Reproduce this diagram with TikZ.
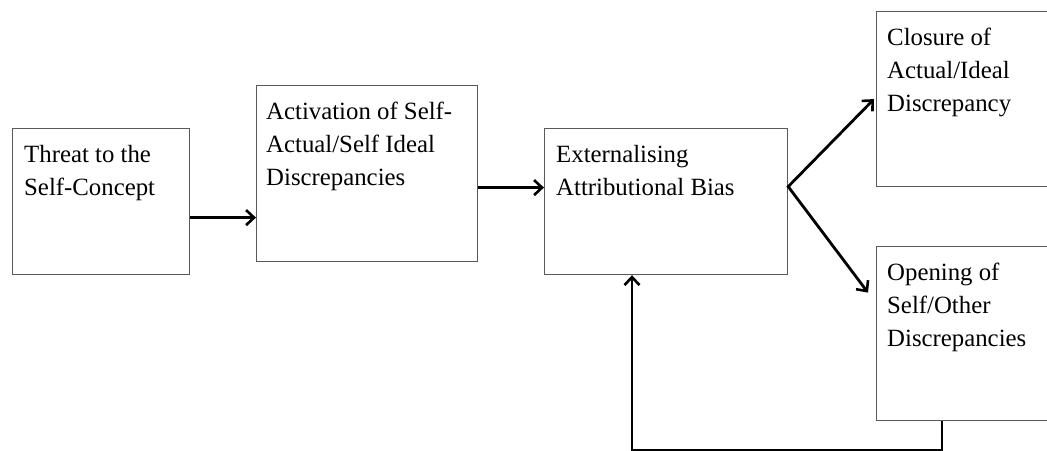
\documentclass[tikz,border=0pt]{standalone}
\usepackage{fontspec}
\setmainfont{Liberation Serif}
\usetikzlibrary{arrows.meta}
\begin{document}
\begin{tikzpicture}[x=1pt,y=-1pt,
  box/.style={draw=black!65,line width=1.2pt,rectangle,inner sep=0pt,anchor=north west},
  txt/.style={anchor=north west,inner sep=0pt,align=left,font=\fontsize{24.8}{33}\selectfont,text=black},
  tip/.tip={Straight Barb[length=8pt,width=15pt,line width=2.6pt]},
  arr/.style={line width=2.8pt,-tip},
  darr/.style={line width=2.8pt,tip-tip,line join=miter}]
\useasboundingbox (0,0) rectangle (1047,450);
\clip (0,0) rectangle (1047,450);
\fill[white] (0,0) rectangle (1047,450);
% boxes
\node[box,minimum width=177pt,minimum height=146pt] (b1) at (12,128) {};
\node[box,minimum width=221pt,minimum height=176pt] (b2) at (256,85) {};
\node[box,minimum width=243pt,minimum height=146pt] (b3) at (544,128) {};
\node[box,minimum width=200pt,minimum height=175pt] (b4) at (876,11) {};
\node[box,minimum width=200pt,minimum height=174pt] (b5) at (876,246) {};
% texts
\node[txt] (t1) at ([xshift=12pt,yshift=-17pt]b1.north west) {Threat to the\\Self-Concept};
\node[txt] (t2) at ([xshift=10pt,yshift=-17pt]b2.north west) {Activation of Self-\\Actual/Self Ideal\\Discrepancies};
\node[txt] (t3) at ([xshift=12pt,yshift=-17pt]b3.north west) {Externalising\\Attributional Bias};
\node[txt] (t4) at ([xshift=11pt,yshift=-17pt]b4.north west) {Closure of\\Actual/Ideal\\Discrepancy};
\node[txt] (t5) at ([xshift=11pt,yshift=-17pt]b5.north west) {Opening of\\Self/Other\\Discrepancies};
% connectors
\draw[arr] ([yshift=-16pt]b1.east) -- ([yshift=-44pt]b2.west);
\draw[arr] ([yshift=-14pt]b2.east) -- ([yshift=14pt]b3.west);
\coordinate (fork) at ([yshift=15pt]b3.east);
\draw[darr] ([xshift=-2pt]b4.west) -- (fork) -- ([xshift=-8pt,yshift=41pt]b5.west);
\draw[arr,line join=miter] ([xshift=66pt]b5.south west) -- ++(0,29) -| ([xshift=88pt]b3.south west);
\end{tikzpicture}
\end{document}
